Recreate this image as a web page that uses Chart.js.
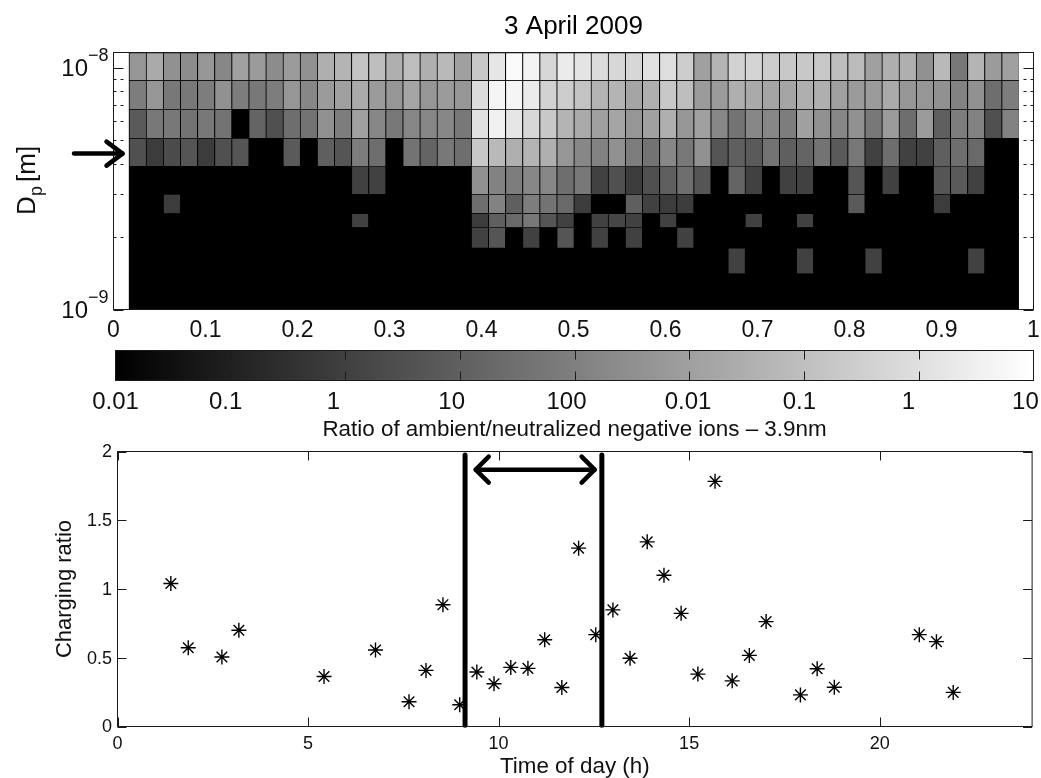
<!DOCTYPE html>
<html>
<head>
<meta charset="utf-8">
<style>
html,body{margin:0;padding:0;background:#fff;width:1041px;height:778px;overflow:hidden}
canvas{position:absolute;left:0;display:block}
</style>
<script src="https://cdn.jsdelivr.net/npm/chart.js@4/dist/chart.umd.min.js"></script>
</head>
<body>
<canvas id="heat" width="1041" height="345" style="top:0"></canvas>
<canvas id="bar" width="1041" height="105" style="top:340px"></canvas>
<canvas id="scatter" width="1041" height="342" style="top:440px"></canvas>
<script>
// ---------- heat-map panel ----------
const chartTitle = '3 April 2009';
const columnWidth = 0.0186;
const firstColumnCentre = 0.0261;
const rowEdgesDp = [1.154e-8, 8.86e-9, 6.74e-9, 5.11e-9, 3.92e-9, 3.00e-9, 2.50e-9, 2.19e-9, 1.80e-9, 1.41e-9, 1e-9];
// grey level of every cell (top row first)
const row1 = [150,170,145,140,150,135,160,155,140,155,145,175,180,195,190,175,190,175,185,160,200,230,250,243,215,235,228,220,215,215,225,222,205,160,180,210,212,205,200,200,200,190,188,160,175,175,145,185,120,180,155,160];
const row2 = [125,150,120,120,125,145,125,120,125,150,135,155,160,170,155,150,165,150,155,150,220,245,245,235,210,205,195,180,180,165,175,200,190,155,155,175,170,165,165,175,175,160,155,155,170,150,150,145,130,145,110,125];
const row3 = [90,120,120,115,120,115,0,100,80,110,115,145,125,160,135,120,135,135,135,120,225,240,230,215,200,180,170,160,165,150,160,175,150,160,135,115,135,135,125,160,145,135,145,120,155,110,155,95,125,130,80,130];
const row4 = [80,60,75,85,60,80,85,0,0,90,0,95,85,125,110,0,115,100,120,110,200,185,175,180,175,150,135,130,145,125,115,135,120,145,85,95,90,115,95,100,115,90,120,65,110,65,65,95,110,105,0,0];
const row5 = [0,0,0,0,0,0,0,0,0,0,0,0,0,65,65,0,0,0,0,0,145,130,125,135,135,110,120,65,80,60,80,95,110,85,0,100,65,0,65,65,0,0,85,0,65,0,0,85,90,65,0,0];
const row6 = [0,0,60,0,0,0,0,0,0,0,0,0,0,0,0,0,0,0,0,0,110,130,95,125,115,105,60,0,0,95,65,60,60,0,0,0,0,0,0,0,0,0,90,0,0,0,0,60,0,0,0,0];
const row7 = [0,0,0,0,0,0,0,0,0,0,0,0,0,65,0,0,0,0,0,0,60,95,105,120,85,65,0,65,70,65,0,65,0,0,0,0,65,0,0,65,0,0,0,0,0,0,0,0,0,0,0,0];
const row8 = [0,0,0,0,0,0,0,0,0,0,0,0,0,0,0,0,0,0,0,0,65,85,0,65,0,85,0,65,0,65,0,0,65,0,0,0,0,0,0,0,0,0,0,0,0,0,0,0,0,0,0,0];
const row9 = [0,0,0,0,0,0,0,0,0,0,0,0,0,0,0,0,0,0,0,0,0,0,0,0,0,0,0,0,0,0,0,0,0,0,0,65,0,0,0,65,0,0,0,65,0,0,0,0,0,65,0,0];
const row10 = [0,0,0,0,0,0,0,0,0,0,0,0,0,0,0,0,0,0,0,0,0,0,0,0,0,0,0,0,0,0,0,0,0,0,0,0,0,0,0,0,0,0,0,0,0,0,0,0,0,0,0,0];
const heatRows = [row1,row2,row3,row4,row5,row6,row7,row8,row9,row10];
const heatXTicks = [0,0.1,0.2,0.3,0.4,0.5,0.6,0.7,0.8,0.9,1];
const dpMajorTicks = [1e-9,1e-8];
const dpMinorTicks = [2e-9,3e-9,4e-9,5e-9,6e-9,7e-9,8e-9,9e-9];
const dpArrowValue = 4.41e-9;
const dpArrowX = [-0.0429,0.0098];

// ---------- colour bar ----------
const barTickPositions = [1,2,3,4,5,6,7];
const barLabelPositions = [0,0.96,1.90,2.93,3.93,4.99,5.96,6.91,7.93];
const barLabels = ['0.01','0.1','1','10','100','0.01','0.1','1','10'];
const barTitle = 'Ratio of ambient/neutralized negative ions \u2013 3.9nm';

// ---------- charging ratio ----------
const hours = [1.40,1.857,2.74,3.185,5.42,6.77,7.65,8.095,8.54,8.98,9.43,9.88,10.32,10.77,11.21,11.66,12.10,12.55,13.0,13.45,13.9,14.34,14.79,15.23,15.68,16.13,16.58,17.02,17.92,18.36,18.81,21.04,21.49,21.93];
const chargingRatio = [1.04,0.573,0.505,0.70,0.364,0.556,0.18,0.408,0.886,0.158,0.396,0.311,0.43,0.423,0.631,0.284,1.297,0.668,0.848,0.496,1.343,1.10,0.823,0.381,1.783,0.332,0.517,0.763,0.23,0.42,0.286,0.668,0.617,0.248];
const boundaryHours = [9.12,12.71];
const boundaryExtent = [0.01,1.975];
const spanArrowX = [9.40,12.52];
const spanArrowY = 1.868;
const hourTicks = [0,5,10,15,20];
const ratioTicks = [0,0.5,1,1.5,2];

const FONT = '"Liberation Sans", Arial, Helvetica, sans-serif';
const INK = '#1a1a1a';
Chart.defaults.animation = false;
Chart.defaults.font.family = FONT;
Chart.defaults.color = '#111';

function fixAxis(size,horizontal){
  return s=>{
    if(horizontal) s.height=size; else s.width=size;
    s.paddingLeft=s.paddingRight=s.paddingTop=s.paddingBottom=0;
  };
}
function frame(chart){
  const {ctx,chartArea:a} = chart;
  ctx.save(); ctx.strokeStyle=INK; ctx.lineWidth=1;
  ctx.strokeRect(a.left,a.top,a.right-a.left,a.bottom-a.top);
  ctx.restore();
}
function inwardX(chart,values,len){
  const {ctx,chartArea:a,scales:{x}} = chart;
  ctx.save(); ctx.strokeStyle=INK; ctx.lineWidth=1;
  for(const v of values){
    const p=Math.round(x.getPixelForValue(v))+0.5;
    ctx.beginPath();ctx.moveTo(p,a.top);ctx.lineTo(p,a.top+len);
    ctx.moveTo(p,a.bottom);ctx.lineTo(p,a.bottom-len);ctx.stroke();
  }
  ctx.restore();
}
function inwardY(chart,values,len,dash){
  const {ctx,chartArea:a,scales:{y}} = chart;
  ctx.save(); ctx.strokeStyle=INK; ctx.lineWidth=1; ctx.setLineDash(dash||[]);
  for(const v of values){
    const p=Math.round(y.getPixelForValue(v))+0.5;
    ctx.beginPath();ctx.moveTo(a.left,p);ctx.lineTo(a.left+len,p);
    ctx.moveTo(a.right,p);ctx.lineTo(a.right-len,p);ctx.stroke();
  }
  ctx.restore();
}
function arrowHead(ctx,tipX,tipY,dir,back,half){
  ctx.beginPath();
  ctx.moveTo(tipX-dir*back,tipY-half);
  ctx.lineTo(tipX,tipY);
  ctx.lineTo(tipX-dir*back,tipY+half);
  ctx.stroke();
}

// ---------- heat map ----------
const columnCentres = row1.map((_,i)=>firstColumnCentre+i*columnWidth);
const heatDatasets = heatRows.map((row,r)=>({
  data: row.map((_,i)=>({x:columnCentres[i],y:[rowEdgesDp[r+1],rowEdgesDp[r]]})),
  backgroundColor: row.map(g=>`rgb(${g},${g},${g})`),
  borderColor:'#000',
  borderWidth:{left:1,top:1,right:0,bottom:0},
  borderSkipped:false,
  grouped:false,
  categoryPercentage:1,
  barPercentage:1
}));
new Chart(document.getElementById('heat'),{
  type:'bar',
  data:{datasets:heatDatasets},
  options:{
    responsive:false,devicePixelRatio:1,
    layout:{padding:{right:7.5}},
    plugins:{legend:{display:false},tooltip:{enabled:false},
      title:{display:true,fullSize:false,text:chartTitle,color:'#000',font:{size:26,weight:'normal'},padding:{top:11.5,bottom:9.8}}},
    scales:{
      x:{type:'linear',min:0,max:1,offset:false,
        grid:{display:false,drawTicks:false},border:{display:false},
        afterBuildTicks:s=>{s.ticks=heatXTicks.map(value=>({value}));},
        ticks:{autoSkip:false,maxRotation:0,padding:7,font:{size:23},color:'#111',callback:v=>String(v)},
        afterFit:fixAxis(345-309.5,true)
      },
      y:{type:'logarithmic',min:1e-9,max:rowEdgesDp[0],
        grid:{display:false,drawTicks:false},border:{display:false},
        afterBuildTicks:s=>{s.ticks=dpMajorTicks.map(value=>({value,major:true}));},
        ticks:{autoSkip:false,padding:25.5,labelOffset:2,font:{size:24},color:'#111',callback:()=>'10'},
        afterFit:fixAxis(113.5,false)
      }
    }
  },
  plugins:[{
    id:'heatDecor',
    beforeDatasetsDraw(chart){
      inwardY(chart,dpMajorTicks,10);
      inwardY(chart,dpMinorTicks,10,[3,4]);
      // solid backing so that no seams show between the black cells
      const {ctx,scales:{x,y}}=chart;
      const l=x.getPixelForValue(columnCentres[0]-columnWidth/2);
      const r=x.getPixelForValue(columnCentres[columnCentres.length-1]+columnWidth/2);
      const t=y.getPixelForValue(rowEdgesDp[0]);
      const b=y.getPixelForValue(rowEdgesDp[rowEdgesDp.length-1]);
      ctx.save();ctx.fillStyle='#000';ctx.fillRect(l,t,r-l,b-t);ctx.restore();
    },
    afterDraw(chart){
      frame(chart);
      const {ctx,chartArea:a,scales:{x,y}}=chart;
      ctx.save();
      ctx.fillStyle='#111';ctx.textAlign='left';ctx.textBaseline='middle';
      ctx.font='18px '+FONT;
      ctx.fillText('\u22128',a.left-25.5,y.getPixelForValue(1e-8)-12);
      ctx.fillText('\u22129',a.left-25.5,y.getPixelForValue(1e-9)-11);
      // rotated axis title with subscript
      ctx.translate(35,215);ctx.rotate(-Math.PI/2);
      ctx.textAlign='left';ctx.textBaseline='alphabetic';
      ctx.font='26px '+FONT;
      ctx.fillText('D',0,0);
      ctx.font='18px '+FONT;
      ctx.fillText('p',19,7);
      ctx.font='26px '+FONT;
      ctx.fillText('[m]',33,0);
      ctx.restore();
      // arrow towards the 3.9 nm row
      ctx.save();
      ctx.strokeStyle='#000';ctx.lineWidth=4.5;ctx.lineCap='round';ctx.lineJoin='round';
      const py=y.getPixelForValue(dpArrowValue),x0=x.getPixelForValue(dpArrowX[0]),x1=x.getPixelForValue(dpArrowX[1]);
      ctx.beginPath();ctx.moveTo(x0,py);ctx.lineTo(x1,py);ctx.stroke();
      arrowHead(ctx,x1,py,1,16,12);
      ctx.restore();
    }
  }]
});

// ---------- colour bar ----------
new Chart(document.getElementById('bar'),{
  type:'bar',
  data:{labels:['scale'],datasets:[{
    data:[[0,8]],
    backgroundColor(c){
      const a=c.chart.chartArea;
      if(!a) return '#888';
      const g=c.chart.ctx.createLinearGradient(a.left,0,a.right,0);
      g.addColorStop(0,'#000');g.addColorStop(1,'#fff');
      return g;
    },
    borderWidth:0,categoryPercentage:1,barPercentage:1
  }]},
  options:{
    indexAxis:'y',responsive:false,devicePixelRatio:1,
    layout:{padding:{top:10.5,right:7.5}},
    plugins:{legend:{display:false},tooltip:{enabled:false},title:{display:false}},
    scales:{
      x:{type:'linear',min:0,max:8,
        grid:{display:false,drawTicks:false},border:{display:false},
        afterBuildTicks:s=>{s.ticks=barLabelPositions.map(value=>({value}));},
        ticks:{autoSkip:false,maxRotation:0,padding:7,font:{size:24},color:'#111',
          callback:(v,i)=>barLabels[i]},
        title:{display:true,text:barTitle,color:'#111',font:{size:22.4},padding:{top:0,bottom:2.1}},
        afterFit:fixAxis(64.5,true)
      },
      y:{type:'category',
        grid:{display:false,drawTicks:false},border:{display:false},
        ticks:{display:false},
        afterFit:fixAxis(115.5,false)
      }
    }
  },
  plugins:[{id:'barDecor',afterDraw(chart){frame(chart);inwardX(chart,barTickPositions,9);}}]
});

// ---------- charging ratio ----------
const scatterDatasets = [
  {type:'scatter',data:hours.map((h,i)=>({x:h,y:chargingRatio[i]})),
   pointStyle:'star',pointRadius:7.5,pointBorderWidth:1.4,pointBorderColor:'#000',pointBackgroundColor:'#000',showLine:false,clip:false},
  ...boundaryHours.map(h=>({type:'scatter',showLine:true,
    data:[{x:h,y:boundaryExtent[0]},{x:h,y:boundaryExtent[1]}],
    borderColor:'#000',borderWidth:5,borderCapStyle:'round',pointRadius:0,clip:false}))
];
new Chart(document.getElementById('scatter'),{
  type:'scatter',
  data:{datasets:scatterDatasets},
  options:{
    responsive:false,devicePixelRatio:1,
    layout:{padding:{top:11.5,right:7.5}},
    plugins:{legend:{display:false},tooltip:{enabled:false},title:{display:false}},
    scales:{
      x:{type:'linear',min:0,max:24,
        grid:{display:false,drawTicks:false},border:{display:false},
        afterBuildTicks:s=>{s.ticks=hourTicks.map(value=>({value}));},
        ticks:{autoSkip:false,maxRotation:0,padding:7,font:{size:18},color:'#111',callback:v=>String(v)},
        title:{display:true,text:'Time of day (h)',color:'#111',font:{size:22.4},padding:{top:0,bottom:1.9}},
        afterFit:fixAxis(55.5,true)
      },
      y:{type:'linear',min:0,max:2,
        grid:{display:false,drawTicks:false},border:{display:false},
        afterBuildTicks:s=>{s.ticks=ratioTicks.map(value=>({value}));},
        ticks:{autoSkip:false,padding:5.5,labelOffset:1,font:{size:18},color:'#111',callback:v=>String(v)},
        title:{display:true,text:'Charging ratio',color:'#111',font:{size:22},padding:{top:51.8,bottom:0}},
        afterFit:fixAxis(117.5,false)
      }
    }
  },
  plugins:[{
    id:'scatterDecor',
    beforeDatasetsDraw(chart){inwardX(chart,hourTicks,9);inwardY(chart,ratioTicks,9);},
    afterDraw(chart){
      frame(chart);
      const {ctx,scales:{x,y}}=chart;
      ctx.save();
      ctx.strokeStyle='#000';ctx.lineWidth=4.5;ctx.lineCap='round';ctx.lineJoin='round';
      const py=y.getPixelForValue(spanArrowY),x0=x.getPixelForValue(spanArrowX[0]),x1=x.getPixelForValue(spanArrowX[1]);
      ctx.beginPath();ctx.moveTo(x0,py);ctx.lineTo(x1,py);ctx.stroke();
      arrowHead(ctx,x0,py,-1,13,13);
      arrowHead(ctx,x1,py,1,13,13);
      ctx.restore();
    }
  }]
});
</script>
</body>
</html>
